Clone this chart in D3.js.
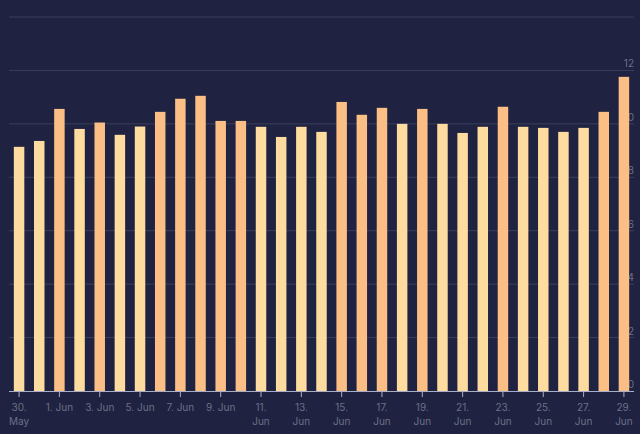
<!DOCTYPE html>
<html>
<head>
<meta charset="utf-8">
<script src="https://cdn.jsdelivr.net/npm/d3@7"></script>
<style>
  body { margin: 0; background: #1f2240; }
  svg { display: block; font-family: Inter, "Noto Sans", sans-serif; }
</style>
</head>
<body>
<svg id="chart" width="640" height="434"></svg>
<script>
const days = ['30. May', '31. May', '1. Jun', '2. Jun', '3. Jun', '4. Jun', '5. Jun', '6. Jun', '7. Jun', '8. Jun',
  '9. Jun', '10. Jun', '11. Jun', '12. Jun', '13. Jun', '14. Jun', '15. Jun', '16. Jun', '17. Jun', '18. Jun',
  '19. Jun', '20. Jun', '21. Jun', '22. Jun', '23. Jun', '24. Jun', '25. Jun', '26. Jun', '27. Jun', '28. Jun', '29. Jun'];
const values = [9.14, 9.36, 10.56, 9.81, 10.05, 9.59, 9.9, 10.45, 10.94, 11.05,
  10.11, 10.11, 9.89, 9.51, 9.89, 9.7, 10.82, 10.34, 10.6, 10.0,
  10.56, 10.0, 9.66, 9.89, 10.64, 9.89, 9.85, 9.7, 9.85, 10.45, 11.76];
const yTicks = [0, 2, 4, 6, 8, 10, 12, 14];
const threshold = 10.02;

const svg = d3.select('#chart');
const margin = { top: 17, right: 6, bottom: 43, left: 9 };
const width = 640 - margin.left - margin.right;
const height = 434 - margin.top - margin.bottom;
const g = svg.append('g').attr('transform', `translate(${margin.left},${margin.top})`);

const x = d3.scaleBand().domain(days).range([0, width]).paddingInner(0.48).paddingOuter(0.24);
const y = d3.scaleLinear().domain([0, 14]).range([height, 0]);

// grid
g.selectAll('.grid').data(yTicks.slice(1))
  .enter().append('line')
  .attr('x1', 0).attr('x2', width)
  .attr('y1', d => y(d)).attr('y2', d => y(d))
  .attr('stroke', '#3b3f5e').attr('stroke-width', 1);

g.selectAll('.ylab').data(yTicks.slice(0, -1))
  .enter().append('text')
  .attr('x', width).attr('y', d => y(d) - 3)
  .attr('text-anchor', 'end')
  .attr('fill', '#6c7089').attr('font-size', 10)
  .text(d => d);

g.selectAll('.bar').data(values)
  .enter().append('rect')
  .attr('x', (d, i) => x(days[i]))
  .attr('width', x.bandwidth())
  .attr('y', d => y(d))
  .attr('height', d => height - y(d))
  .attr('fill', d => d >= threshold ? '#fbbe85' : '#fedc9f');

// x axis
g.append('line')
  .attr('x1', 0).attr('x2', width).attr('y1', height + 0.5).attr('y2', height + 0.5)
  .attr('stroke', '#a9aec8');

const tickDays = days.filter((d, i) => i % 2 === 0);
const tg = g.selectAll('.tick').data(tickDays)
  .enter().append('g')
  .attr('transform', d => `translate(${x(d) + x.bandwidth() / 2},${height})`);
tg.append('line').attr('y1', 0).attr('y2', 6).attr('stroke', '#a9aec8');
tg.each(function (d) {
  const t = d3.select(this).append('text')
    .attr('text-anchor', 'middle').attr('fill', '#6c7089').attr('font-size', 10);
  const short = ['1. Jun', '3. Jun', '5. Jun', '7. Jun', '9. Jun'].includes(d);
  if (short) {
    t.append('tspan').attr('x', 0).attr('y', 20).text(d);
  } else {
    const parts = d.split(' ');
    t.append('tspan').attr('x', 0).attr('y', 20).text(parts[0]);
    t.append('tspan').attr('x', 0).attr('y', 34).text(parts[1]);
  }
});
</script>
</body>
</html>
